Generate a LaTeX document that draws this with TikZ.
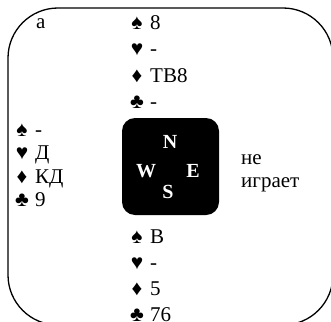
\documentclass[tikz,border=0pt]{standalone}
\usepackage{fontspec}
\setmainfont{Liberation Serif}
\begin{document}
\begin{tikzpicture}[x=1pt,y=-1pt,
  txt/.style={anchor=base west,inner sep=0pt,font=\fontsize{21}{24}\selectfont},
  suit/.style={anchor=base,inner sep=0pt,font=\fontsize{21}{24}\selectfont},
  dir/.style={text=white,inner sep=0pt,font=\fontsize{20}{22}\selectfont\bfseries},
  frame/.style={line width=1.3pt,rounded corners=50pt}]
\useasboundingbox (0,0) rectangle (331,321);
\clip (0,0) rectangle (331,321);
\draw[frame] (8,8) rectangle (333,325);
\node[txt] (lbl) at (36,29) {а};
% North
\node[suit] (ns) at (137,30) {♠}; \node[txt] (nsv) at (150,30) {8};
\node[suit] (nh) at (137,56) {♥}; \node[txt] (nhv) at (150,56) {-};
\node[suit] (nd) at (137,82) {♦}; \node[txt] (ndv) at (150,82) {ТВ8};
\node[suit] (nc) at (137,108) {♣}; \node[txt] (ncv) at (150,108) {-};
% West
\node[suit] (ws) at (22,136) {♠}; \node[txt] (wsv) at (35,136) {-};
\node[suit] (wh) at (22,159.5) {♥}; \node[txt] (whv) at (35,159.5) {Д};
\node[suit] (wd) at (22,183) {♦}; \node[txt] (wdv) at (35,183) {КД};
\node[suit] (wc) at (22,206.5) {♣}; \node[txt] (wcv) at (35,206.5) {9};
% East
\node[txt] (e1) at (241,164) {не};
\node[txt] (e2) at (241,187) {играет};
% South
\node[suit] (ss) at (137,243) {♠}; \node[txt] (ssv) at (150,243) {В};
\node[suit] (sh) at (137,269) {♥}; \node[txt] (shv) at (150,269) {-};
\node[suit] (sd) at (137,295) {♦}; \node[txt] (sdv) at (150,295) {5};
\node[suit] (sc) at (137,321) {♣}; \node[txt] (scv) at (150,321) {76};
% compass
\node[fill=black,rounded corners=13pt,minimum size=97pt,inner sep=0pt] (box) at (170.5,166.5) {};
\node[dir] (N) at (170,142) {N};
\node[dir] (W) at (146,171) {W};
\node[dir] (E) at (193,171) {E};
\node[dir] (S) at (168,192) {S};
\end{tikzpicture}
\end{document}
